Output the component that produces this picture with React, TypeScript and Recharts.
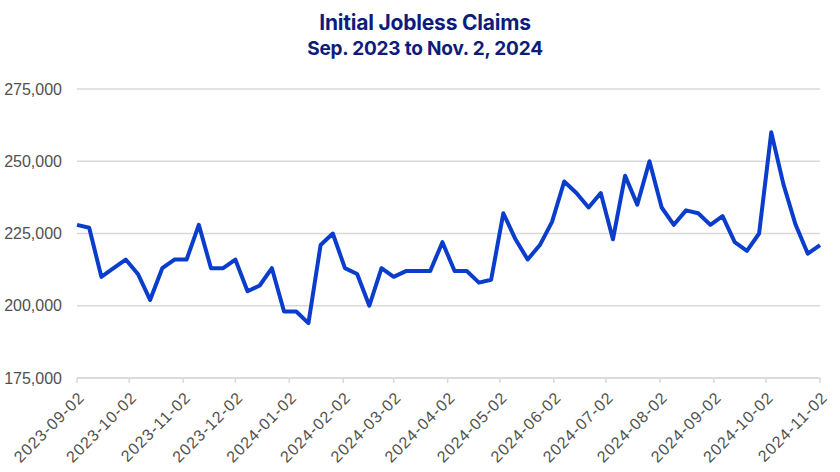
import React from 'react';
import { LineChart, Line, XAxis, YAxis, CartesianGrid } from 'recharts';

// weekly initial claims, week ending Saturday, starting 2023-09-02
const startDate = '2023-09-02';
const claims = [
  228000, 227000, 210000, 213000, 216000, 211000, 202000, 213000, 216000, 216000,
  228000, 213000, 213000, 216000, 205000, 207000, 213000, 198000, 198000, 194000,
  221000, 225000, 213000, 211000, 200000, 213000, 210000, 212000, 212000, 212000,
  222000, 212000, 212000, 208000, 209000, 232000, 223000, 216000, 221000, 229000,
  243000, 239000, 234000, 239000, 223000, 245000, 235000, 250000, 234000, 228000,
  233000, 232000, 228000, 231000, 222000, 219000, 225000, 260000, 242000, 228000,
  218000, 221000,
];
const tickDates = [
  '2023-09-02', '2023-10-02', '2023-11-02', '2023-12-02', '2024-01-02', '2024-02-02',
  '2024-03-02', '2024-04-02', '2024-05-02', '2024-06-02', '2024-07-02', '2024-08-02',
  '2024-09-02', '2024-10-02', '2024-11-02',
];
const yTicks = [175000, 200000, 225000, 250000, 275000];

const DAY = 86400000;
const toTs = (s: string) => Date.parse(s + 'T00:00:00Z');
const fmtDate = (t: number) => new Date(t).toISOString().slice(0, 10);

const t0 = toTs(startDate);
const data = claims.map((v, i) => ({ t: t0 + i * 7 * DAY, claims: v }));
const xTicks = tickDates.map(toTs);

const labelFont = '"Liberation Sans", Arial, sans-serif';

const DateTick = (props: any) => {
  const { x, y, payload } = props;
  return (
    <g transform={`translate(${x + 5},${y + 10})`}>
      <text
        x={0}
        y={0}
        dy={5}
        textAnchor="end"
        transform="rotate(-45)"
        fill="#505050"
        fontSize={16}
        letterSpacing={1}
        fontFamily={labelFont}
      >
        {fmtDate(payload.value)}
      </text>
    </g>
  );
};

export default function App() {
  return (
    <div style={{ position: 'absolute', left: 0, top: 0, width: 840, height: 472, background: '#fff' }}>
      <div
        style={{
          position: 'absolute',
          left: 0,
          width: 840,
          top: 10,
          textAlign: 'center',
          fontFamily: 'Inter, sans-serif',
          fontWeight: 700,
          color: '#0d1c7c',
          lineHeight: '26px',
        }}
      >
        <div style={{ paddingLeft: 10, fontSize: 21, letterSpacing: -0.2 }}>Initial Jobless Claims</div>
        <div style={{ paddingLeft: 10, fontSize: 19, letterSpacing: -0.2 }}>Sep. 2023 to Nov. 2, 2024</div>
      </div>
      <LineChart width={840} height={472} data={data} margin={{ top: 89, right: 20, bottom: 4, left: 7 }}>
        <CartesianGrid vertical={false} stroke="#d9d9d9" strokeWidth={1.5} />
        <XAxis
          dataKey="t"
          type="number"
          scale="time"
          domain={[xTicks[0], xTicks[xTicks.length - 1]]}
          ticks={xTicks}
          interval={0}
          height={90}
          stroke="#d9d9d9"
          strokeWidth={1.5}
          tickSize={5}
          tick={<DateTick />}
        />
        <YAxis
          domain={[175000, 275000]}
          ticks={yTicks}
          width={70}
          axisLine={false}
          tickLine={false}
          tickMargin={9}
          tickFormatter={(v: number) => v.toLocaleString('en-US')}
          tick={{ fill: '#505050', fontSize: 16, fontFamily: labelFont }}
        />
        <Line
          type="linear"
          dataKey="claims"
          stroke="#0a3dcc"
          strokeWidth={4}
          dot={false}
          strokeLinejoin="round"
          isAnimationActive={false}
        />
      </LineChart>
    </div>
  );
}
